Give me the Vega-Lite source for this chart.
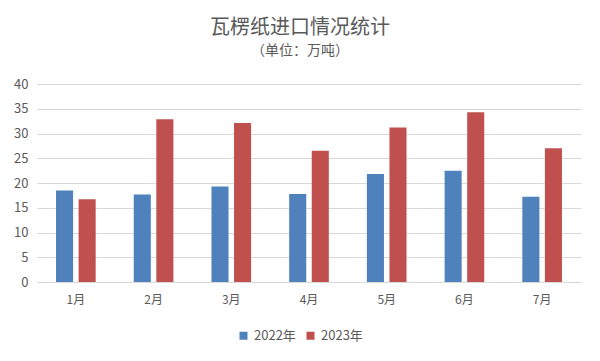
{
  "$schema": "https://vega.github.io/schema/vega-lite/v6.json",
  "width": 544,
  "height": 198,
  "autosize": "none",
  "padding": {"left": 37, "top": 84, "right": 19, "bottom": 79},
  "background": "white",
  "title": {
    "text": "瓦楞纸进口情况统计",
    "subtitle": "（单位：万吨）",
    "anchor": "middle",
    "dx": -9,
    "offset": 20,
    "font": "Noto Sans CJK SC",
    "fontSize": 20,
    "fontWeight": "normal",
    "color": "#595959",
    "subtitleFont": "Noto Sans CJK SC",
    "subtitleFontSize": 14,
    "subtitleColor": "#595959",
    "subtitlePadding": 6
  },
  "data": {
    "values": [
      {"month": "1月", "year": "2022年", "value": 18.5},
      {"month": "1月", "year": "2023年", "value": 16.7},
      {"month": "2月", "year": "2022年", "value": 17.7},
      {"month": "2月", "year": "2023年", "value": 32.9},
      {"month": "3月", "year": "2022年", "value": 19.3},
      {"month": "3月", "year": "2023年", "value": 32.1},
      {"month": "4月", "year": "2022年", "value": 17.8},
      {"month": "4月", "year": "2023年", "value": 26.5},
      {"month": "5月", "year": "2022年", "value": 21.8},
      {"month": "5月", "year": "2023年", "value": 31.2},
      {"month": "6月", "year": "2022年", "value": 22.5},
      {"month": "6月", "year": "2023年", "value": 34.3},
      {"month": "7月", "year": "2022年", "value": 17.2},
      {"month": "7月", "year": "2023年", "value": 27.0}
    ]
  },
  "mark": {"type": "bar"},
  "encoding": {
    "x": {
      "field": "month",
      "type": "nominal",
      "sort": null,
      "scale": {"paddingInner": 0.49, "paddingOuter": 0.245},
      "axis": {
        "title": null,
        "labelAngle": 0,
        "domain": false,
        "ticks": false,
        "labelPadding": 12,
        "labelFont": "Noto Sans CJK SC",
        "labelFontSize": 12,
        "labelColor": "#595959"
      }
    },
    "xOffset": {
      "field": "year",
      "type": "nominal",
      "scale": {"paddingInner": 0.244, "paddingOuter": 0}
    },
    "y": {
      "field": "value",
      "type": "quantitative",
      "scale": {"domain": [0, 40]},
      "axis": {
        "title": null,
        "values": [0, 5, 10, 15, 20, 25, 30, 35, 40],
        "domain": false,
        "ticks": false,
        "labelPadding": 9,
        "labelFont": "Noto Sans CJK SC",
        "labelFontSize": 13,
        "labelColor": "#595959",
        "gridColor": "#D9D9D9",
        "gridWidth": 1
      }
    },
    "color": {
      "field": "year",
      "type": "nominal",
      "scale": {"domain": ["2022年", "2023年"], "range": ["#4F81BD", "#C0504D"]},
      "legend": {
        "title": null,
        "orient": "none",
        "direction": "horizontal",
        "legendX": 200,
        "legendY": 245,
        "symbolType": "square",
        "symbolSize": 64,
        "symbolStrokeWidth": 0,
        "labelFont": "Noto Sans CJK SC",
        "labelFontSize": 13,
        "labelColor": "#595959",
        "columnPadding": 8,
        "labelOffset": 4
      }
    }
  },
  "config": {"view": {"stroke": null}}
}
